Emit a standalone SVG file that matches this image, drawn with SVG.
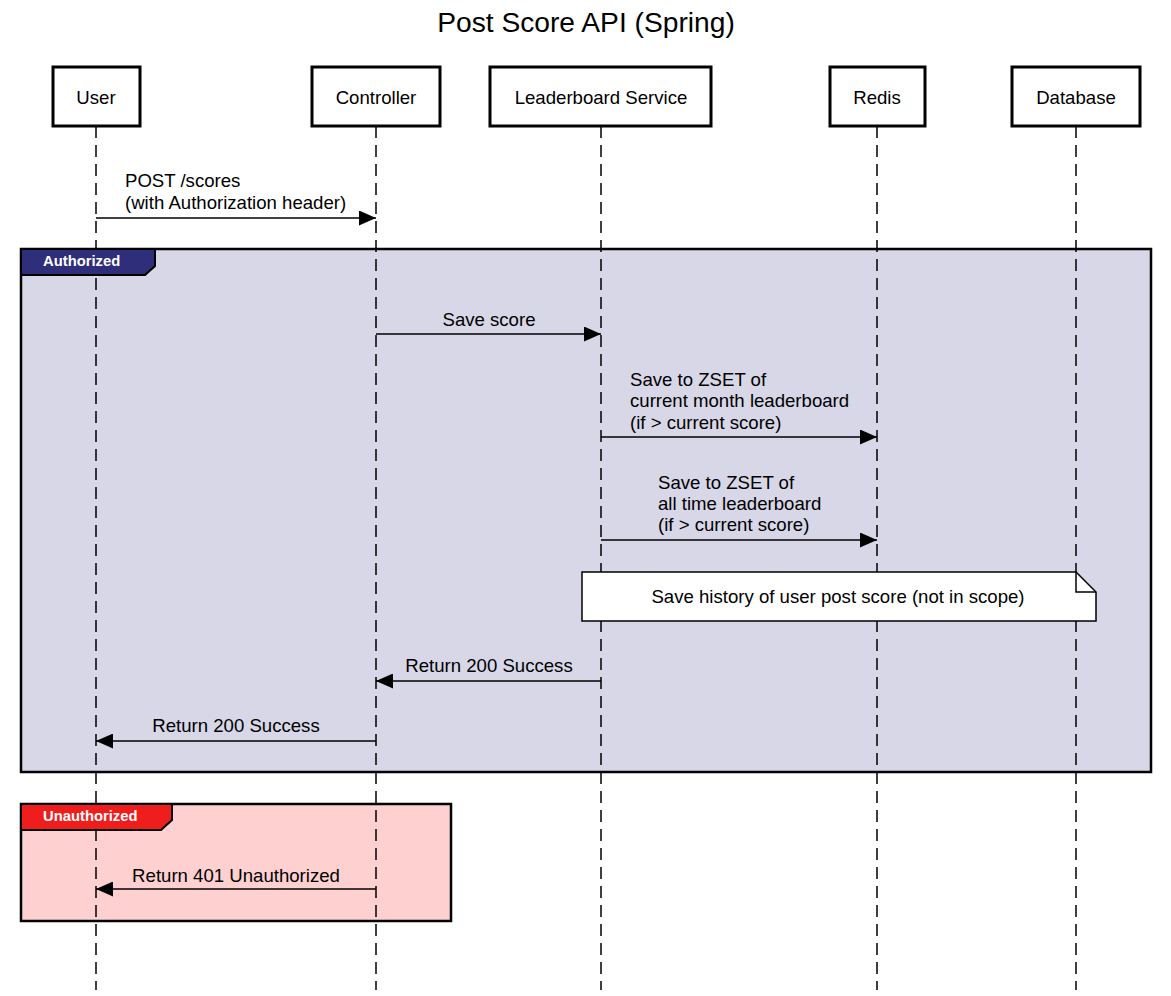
<svg xmlns="http://www.w3.org/2000/svg" width="1171" height="996" viewBox="0 0 1171 996">
<defs>
<marker id="ah" markerWidth="17" markerHeight="15" refX="17" refY="7.5" orient="auto" markerUnits="userSpaceOnUse">
<path d="M0,0 L17,7.5 L0,15 Z" fill="#000"/>
</marker>
<style>
text{font-family:"Liberation Sans",Arial,sans-serif;font-size:18.6px;fill:#000}
.title{font-size:28.2px}
.box{fill:#fff;stroke:#000;stroke-width:3}
.life{stroke:#000;stroke-width:1.5;stroke-dasharray:12,7;fill:none}
.msg{stroke:#000;stroke-width:1.5;fill:none;marker-end:url(#ah)}
.tab{font-weight:bold;font-size:14.8px;fill:#fff}
.c{text-anchor:middle}
</style>
</defs>
<rect width="1171" height="996" fill="#fff"/>
<text class="title c" x="586" y="32">Post Score API (Spring)</text>

<g id="frames">
<rect x="21" y="249" width="1130" height="523" fill="#d7d7e7" stroke="#000" stroke-width="2.5"/>
<rect x="21" y="804" width="430" height="117" fill="#ffd0d0" stroke="#000" stroke-width="2.5"/>
</g>

<g id="lifelines">
<line class="life" x1="96" y1="126" x2="96" y2="990"/>
<line class="life" x1="376" y1="126" x2="376" y2="990"/>
<line class="life" x1="601" y1="126" x2="601" y2="990"/>
<line class="life" x1="877" y1="126" x2="877" y2="990"/>
<line class="life" x1="1076" y1="126" x2="1076" y2="990"/>
</g>

<g id="frame-authorized">
<path d="M21,249 H155 V266 L145,275 H21 Z" fill="#2e2e7b" stroke="#000" stroke-width="2"/>
<text class="tab" x="43" y="266">Authorized</text>
</g>
<g id="frame-unauthorized">
<path d="M21,804 H172 V820 L161,830 H21 Z" fill="#f01d1d" stroke="#000" stroke-width="2"/>
<text class="tab" x="43" y="821">Unauthorized</text>
</g>

<g id="user"><rect class="box" x="53" y="67" width="87" height="59"/><text class="c" x="96" y="104">User</text></g>
<g id="controller"><rect class="box" x="312" y="67" width="128" height="59"/><text class="c" x="376" y="104">Controller</text></g>
<g id="leaderboard-service"><rect class="box" x="490" y="67" width="221" height="59"/><text class="c" x="601" y="104">Leaderboard Service</text></g>
<g id="redis"><rect class="box" x="830" y="67" width="95" height="59"/><text class="c" x="877" y="104">Redis</text></g>
<g id="database"><rect class="box" x="1012" y="67" width="128" height="59"/><text class="c" x="1076" y="104">Database</text></g>

<g id="note">
<path d="M582,572 H1076 L1096,592 V621 H582 Z" fill="#fff" stroke="#000" stroke-width="1.5"/>
<path d="M1076,572 V592 H1096" fill="none" stroke="#000" stroke-width="1.5"/>
<text class="c" x="838" y="603">Save history of user post score (not in scope)</text>
</g>

<g id="connectors">
<line class="msg" x1="96" y1="218" x2="376" y2="218"/>
<text x="125" y="187">POST /scores</text>
<text x="125" y="209">(with Authorization header)</text>

<line class="msg" x1="376" y1="334" x2="601" y2="334"/>
<text class="c" x="489" y="326">Save score</text>

<line class="msg" x1="601" y1="437" x2="877" y2="437"/>
<text x="630" y="386">Save to ZSET of</text>
<text x="630" y="407">current month leaderboard</text>
<text x="630" y="429">(if &gt; current score)</text>

<line class="msg" x1="601" y1="540" x2="877" y2="540"/>
<text x="658" y="489">Save to ZSET of</text>
<text x="658" y="510">all time leaderboard</text>
<text x="658" y="531">(if &gt; current score)</text>

<line class="msg" x1="601" y1="681" x2="376" y2="681"/>
<text class="c" x="489" y="672">Return 200 Success</text>

<line class="msg" x1="376" y1="741" x2="96" y2="741"/>
<text class="c" x="236" y="732">Return 200 Success</text>

<line class="msg" x1="376" y1="889" x2="96" y2="889"/>
<text class="c" x="236" y="882">Return 401 Unauthorized</text>
</g>
</svg>
